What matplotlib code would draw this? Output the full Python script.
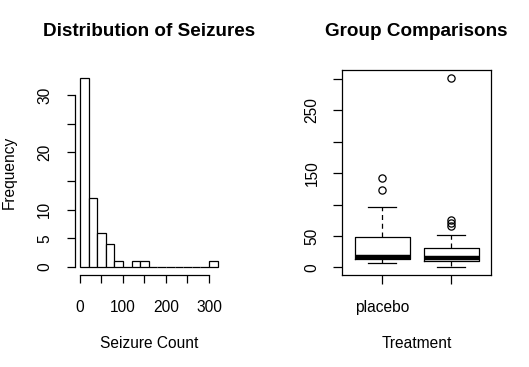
import matplotlib
matplotlib.use("Agg")
import matplotlib.pyplot as plt

plt.rcParams['font.family'] = ['Liberation Sans', 'DejaVu Sans']

# histogram of total seizure counts
bin_edges = [0, 20, 40, 60, 80, 100, 120, 140, 160, 180, 200, 220, 240, 260, 280, 300, 320]
bin_counts = [33, 12, 6, 4, 1, 0, 1, 1, 0, 0, 0, 0, 0, 0, 0, 1]
hist_xticks = [0, 50, 100, 150, 200, 250, 300]
hist_xlabels = ["0", "", "100", "", "200", "", "300"]
hist_yticks = [0, 5, 10, 15, 20, 25, 30]
hist_ylabels = ["0", "5", "10", "", "20", "", "30"]

# box plot summary per group
groups = ["placebo", ""]
q1 = [13, 9.5]
medians = [16, 14.5]
q3 = [47.75, 30.25]
whisk_lo = [6.5, 0]
whisk_hi = [96, 52]
outliers = [[123, 143], [66, 71, 75, 302]]
box_yticks = [0, 50, 100, 150, 200, 250, 300]
box_ylabels = ["0", "50", "", "150", "", "250", ""]

W, H = 529, 367
fig = plt.figure(figsize=(W / 100, H / 100), dpi=100)

def px_axes(x0, y0, x1, y1):
    return fig.add_axes([x0 / W, 1 - y1 / H, (x1 - x0) / W, (y1 - y0) / H])

base = 11.2
lw = 0.9

# ---- left: histogram
ax1 = px_axes(74.5, 70.4, 223, 274.5)
widths = [b - a for a, b in zip(bin_edges[:-1], bin_edges[1:])]
ax1.bar(bin_edges[:-1], bin_counts, width=widths, align='edge',
        facecolor='white', edgecolor='black', linewidth=lw)
ax1.set_xlim(-12.8, 332.8)
ax1.set_ylim(-1.32, 34.32)
for s in ['top', 'right']:
    ax1.spines[s].set_visible(False)
ax1.spines['left'].set_bounds(0, 30)
ax1.spines['bottom'].set_bounds(0, 300)
for s in ['left', 'bottom']:
    ax1.spines[s].set_linewidth(lw)
ax1.set_xticks(hist_xticks, hist_xlabels)
ax1.set_yticks(hist_yticks, hist_ylabels)
ax1.tick_params(length=6, width=lw, labelsize=base)
ax1.tick_params(axis='x', pad=12)
ax1.tick_params(axis='y', pad=10)
for t in ax1.get_yticklabels():
    t.set_rotation(90)
    t.set_va('center')

# ---- right: box plot
ax2 = px_axes(342.3, 70.1, 491, 275)
stats = []
for i in range(len(groups)):
    stats.append(dict(med=medians[i], q1=q1[i], q3=q3[i],
                      whislo=whisk_lo[i], whishi=whisk_hi[i], fliers=outliers[i]))
ax2.bxp(stats, positions=[1, 2], widths=0.8, showfliers=True,
        boxprops=dict(color='black', linewidth=lw),
        medianprops=dict(color='black', linewidth=3.2, solid_capstyle='butt'),
        whiskerprops=dict(color='black', linewidth=lw, linestyle=(0, (4, 3))),
        capprops=dict(color='black', linewidth=lw),
        capwidths=0.4,
        flierprops=dict(marker='o', markersize=5.2, markerfacecolor='none',
                        markeredgecolor='black', markeredgewidth=lw))
ax2.set_xlim(0.42, 2.58)
ax2.set_ylim(-12.08, 314.08)
for s in ax2.spines.values():
    s.set_linewidth(lw)
ax2.set_xticks([1, 2], groups)
ax2.set_yticks(box_yticks, box_ylabels)
ax2.tick_params(length=6.5, width=lw, labelsize=base)
ax2.tick_params(axis='x', pad=11.5)
ax2.tick_params(axis='y', pad=10)
for t in ax2.get_yticklabels():
    t.set_rotation(90)
    t.set_va('center')

# titles and axis labels
fig.text(148.7 / W, 1 - 32 / H, "Distribution of Seizures", ha='center', va='center',
         fontsize=13.6, fontweight='bold')
fig.text(416.7 / W, 1 - 32 / H, "Group Comparisons", ha='center', va='center',
         fontsize=13.6, fontweight='bold')
fig.text(148.7 / W, 1 - 343 / H, "Seizure Count", ha='center', va='center', fontsize=base)
fig.text(416.7 / W, 1 - 343 / H, "Treatment", ha='center', va='center', fontsize=base)
fig.text(9 / W, 1 - 172 / H, "Frequency", ha='center', va='center', rotation=90, fontsize=base)

fig.savefig("out.png", dpi=100)
